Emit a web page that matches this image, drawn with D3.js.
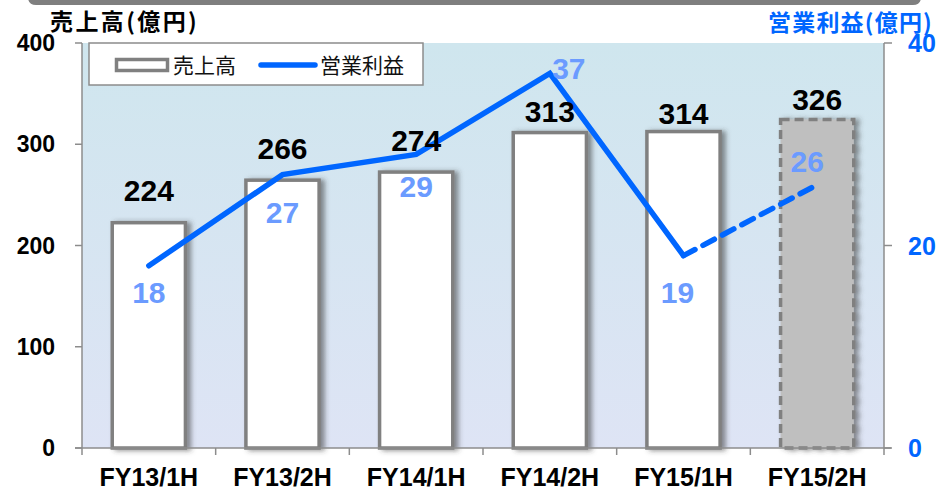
<!DOCTYPE html>
<html>
<head>
<meta charset="utf-8">
<script src="https://cdn.jsdelivr.net/npm/d3@7"></script>
<style>
	body { margin: 0; background: #fff; }
	svg text { font-family: "Liberation Sans", Arial, "Noto Sans CJK JP", sans-serif; }
	.jp { font-family: "Noto Sans CJK JP", "Liberation Sans", sans-serif; }
</style>
</head>
<body>
<div id="chart"></div>
<script>
'use strict';

// data
const categories = ['FY13/1H', 'FY13/2H', 'FY14/1H', 'FY14/2H', 'FY15/1H', 'FY15/2H'];
const sales = [224, 266, 274, 313, 314, 326];
const profit = [18, 27, 29, 37, 19, 26];
const forecastFrom = 4; // index where the forecast (dashed) part starts
const salesTicks = [0, 100, 200, 300, 400];
const profitTicks = [0, 20, 40];

// label placement (dx, dy of baseline)
const salesLabelDy = [-20, -20, -20, -9, -6, -8];
const profitLabelOff = [[0, 37], [0, 48], [0, 43], [19, 6], [-6, 47], [-10, -13]];

const W = 939, H = 491;
const margin = {top: 43, right: 55, bottom: 43, left: 82};
const width = W - margin.left - margin.right;
const height = H - margin.top - margin.bottom;

const svg = d3.select('#chart').append('svg')
	.attr('width', W)
	.attr('height', H);

const defs = svg.append('defs');
const grad = defs.append('linearGradient')
	.attr('id', 'bg')
	.attr('x1', 0).attr('y1', 0).attr('x2', 0).attr('y2', 1);
grad.append('stop').attr('offset', '0%').attr('stop-color', '#cfe6ee');
grad.append('stop').attr('offset', '100%').attr('stop-color', '#dee4f5');

const shadow = defs.append('filter')
	.attr('id', 'shadow')
	.attr('x', '-20%').attr('y', '-10%').attr('width', '150%').attr('height', '120%');
shadow.append('feDropShadow')
	.attr('dx', 4).attr('dy', 1)
	.attr('stdDeviation', 2.5)
	.attr('flood-color', '#3a3a3a')
	.attr('flood-opacity', 0.55);

// top slide band
svg.append('path')
	.attr('d', 'M28,0 L921,0 L921,-3 Q921,5 913,5 L36,5 Q28,5 28,-3 Z')
	.attr('fill', '#7f7f7f');

const g = svg.append('g')
	.attr('transform', 'translate(' + margin.left + ',' + margin.top + ')');

const x = d3.scaleBand()
	.domain(categories)
	.range([0, width])
	.paddingInner(0.43)
	.paddingOuter(0.215);

const xBand = d3.scaleBand().domain(categories).range([0, width]);

const yL = d3.scaleLinear().domain([0, 400]).range([height, 0]);
const yR = d3.scaleLinear().domain([0, 40]).range([height, 0]);

// plot background
g.append('rect')
	.attr('x', 0).attr('y', 0)
	.attr('width', width).attr('height', height)
	.attr('fill', 'url(#bg)');

// legend
const legend = g.append('g').attr('transform', 'translate(7,0)');
legend.append('rect')
	.attr('x', 0).attr('y', 0)
	.attr('width', 334).attr('height', 42)
	.attr('fill', '#fff')
	.attr('stroke', '#8c8c8c')
	.attr('stroke-width', 1.5);
legend.append('rect')
	.attr('x', 27.5).attr('y', 16.5)
	.attr('width', 51).attr('height', 11)
	.attr('fill', '#fff')
	.attr('stroke', '#808080')
	.attr('stroke-width', 3.5);
legend.append('text')
	.attr('class', 'jp')
	.attr('x', 84).attr('y', 29.5)
	.attr('font-size', 21)
	.attr('fill', '#111')
	.text('売上高');
legend.append('line')
	.attr('x1', 172).attr('x2', 226)
	.attr('y1', 22).attr('y2', 22)
	.attr('stroke', '#0066ff')
	.attr('stroke-width', 5.5)
	.attr('stroke-linecap', 'round');
legend.append('text')
	.attr('class', 'jp')
	.attr('x', 231).attr('y', 29.5)
	.attr('font-size', 21)
	.attr('fill', '#111')
	.text('営業利益');

// bars
g.selectAll('rect.bar')
	.data(sales)
	.enter().append('rect')
	.attr('class', 'bar')
	.attr('x', (d, i) => x(categories[i]) + 1.5)
	.attr('y', d => yL(d) + 1.5)
	.attr('width', x.bandwidth() - 3)
	.attr('height', d => height - yL(d) - 1.5)
	.attr('fill', (d, i) => i > forecastFrom ? '#bfbfbf' : '#fff')
	.attr('stroke', '#808080')
	.attr('stroke-width', 3.5)
	.attr('stroke-dasharray', (d, i) => i > forecastFrom ? '9,5' : null)
	.attr('filter', 'url(#shadow)');

// axes
const axisColor = '#8c8c8c';
const axisG = g.append('g');

axisG.append('line')
	.attr('x1', 0).attr('x2', 0).attr('y1', 0).attr('y2', height)
	.attr('stroke', axisColor).attr('stroke-width', 1.5);
axisG.append('line')
	.attr('x1', width).attr('x2', width).attr('y1', 0).attr('y2', height)
	.attr('stroke', axisColor).attr('stroke-width', 1.5);
axisG.append('line')
	.attr('x1', -7).attr('x2', width + 7).attr('y1', height).attr('y2', height)
	.attr('stroke', axisColor).attr('stroke-width', 1.5);

axisG.selectAll('line.tl')
	.data(salesTicks)
	.enter().append('line')
	.attr('class', 'tl')
	.attr('x1', -7).attr('x2', 0)
	.attr('y1', d => yL(d)).attr('y2', d => yL(d))
	.attr('stroke', axisColor).attr('stroke-width', 1.5);

axisG.selectAll('line.tr')
	.data(profitTicks)
	.enter().append('line')
	.attr('class', 'tr')
	.attr('x1', width).attr('x2', width + 8)
	.attr('y1', d => yR(d)).attr('y2', d => yR(d))
	.attr('stroke', axisColor).attr('stroke-width', 1.5);

axisG.selectAll('line.tx')
	.data(categories.concat(['end']))
	.enter().append('line')
	.attr('class', 'tx')
	.attr('x1', (d, i) => i * xBand.bandwidth()).attr('x2', (d, i) => i * xBand.bandwidth())
	.attr('y1', height).attr('y2', height + 7)
	.attr('stroke', axisColor).attr('stroke-width', 1.5);

axisG.selectAll('text.yl')
	.data(salesTicks)
	.enter().append('text')
	.attr('class', 'yl')
	.attr('x', -27)
	.attr('y', d => yL(d) + 8)
	.attr('text-anchor', 'end')
	.attr('font-size', 23)
	.attr('font-weight', 'bold')
	.attr('fill', '#000')
	.text(d => d);

axisG.selectAll('text.yr')
	.data(profitTicks)
	.enter().append('text')
	.attr('class', 'yr')
	.attr('x', width + 24)
	.attr('y', d => yR(d) + 9)
	.attr('font-size', 25)
	.attr('font-weight', 'bold')
	.attr('fill', '#0066ff')
	.text(d => d);

axisG.selectAll('text.xl')
	.data(categories)
	.enter().append('text')
	.attr('class', 'xl')
	.attr('x', d => xBand(d) + xBand.bandwidth() / 2)
	.attr('y', height + 38)
	.attr('text-anchor', 'middle')
	.attr('font-size', 25)
	.attr('font-weight', 'bold')
	.attr('fill', '#000')
	.text(d => d);

// axis titles
svg.append('text')
	.attr('class', 'jp')
	.attr('x', 50).attr('y', 30)
	.attr('font-size', 23)
	.attr('font-weight', 'bold')
	.attr('letter-spacing', 2.4)
	.attr('fill', '#000')
	.text('売上高(億円)');
svg.append('text')
	.attr('class', 'jp')
	.attr('x', 933).attr('y', 31)
	.attr('text-anchor', 'end')
	.attr('font-size', 23)
	.attr('font-weight', 'bold')
	.attr('letter-spacing', 1.2)
	.attr('fill', '#0066ff')
	.text('営業利益(億円)');

// profit line
const cx = i => xBand(categories[i]) + xBand.bandwidth() / 2;
const lineDrawer = d3.line()
	.x(d => cx(d.i))
	.y(d => yR(d.v));

const pts = profit.map((v, i) => ({i: i, v: v}));

g.append('path')
	.attr('d', lineDrawer(pts.slice(0, forecastFrom + 1)))
	.attr('fill', 'none')
	.attr('stroke', '#0066ff')
	.attr('stroke-width', 5.5)
	.attr('stroke-linejoin', 'miter')
	.attr('stroke-linecap', 'round');

g.append('path')
	.attr('d', lineDrawer(pts.slice(forecastFrom)))
	.attr('fill', 'none')
	.attr('stroke', '#0066ff')
	.attr('stroke-width', 5.5)
	.attr('stroke-dasharray', '13,9')
	.attr('stroke-linecap', 'round');

// value labels
g.selectAll('text.sv')
	.data(sales)
	.enter().append('text')
	.attr('class', 'sv')
	.attr('x', (d, i) => cx(i))
	.attr('y', (d, i) => yL(d) + salesLabelDy[i])
	.attr('text-anchor', 'middle')
	.attr('font-size', 30)
	.attr('font-weight', 'bold')
	.attr('fill', '#000')
	.text(d => d);

g.selectAll('text.pv')
	.data(profit)
	.enter().append('text')
	.attr('class', 'pv')
	.attr('x', (d, i) => cx(i) + profitLabelOff[i][0])
	.attr('y', (d, i) => yR(d) + profitLabelOff[i][1])
	.attr('text-anchor', 'middle')
	.attr('font-size', 30)
	.attr('font-weight', 'bold')
	.attr('fill', '#6b9bff')
	.text(d => d);
</script>
</body>
</html>
